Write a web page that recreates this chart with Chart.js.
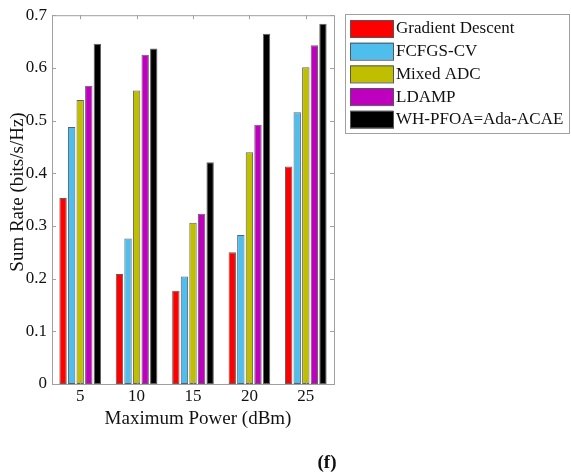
<!DOCTYPE html>
<html>
<head>
<meta charset="utf-8">
<script src="https://cdn.jsdelivr.net/npm/chart.js@4/dist/chart.umd.min.js"></script>
<style>
  html, body { margin: 0; padding: 0; background: #fff; }
  #wrap { width: 571px; height: 473px; }
</style>
</head>
<body>
<div id="wrap"><canvas id="sumRateChart" width="571" height="473"></canvas></div>
<script>
// Data
var powerLevels = ['5', '10', '15', '20', '25'];
var seriesNames = ['Gradient Descent', 'FCFGS-CV', 'Mixed ADC', 'LDAMP', 'WH-PFOA=Ada-ACAE'];
var gradientDescent = [0.353, 0.209, 0.177, 0.250, 0.413];
var fcfgsCv = [0.488, 0.276, 0.204, 0.283, 0.516];
var mixedAdc = [0.539, 0.557, 0.306, 0.440, 0.601];
var ldamp = [0.566, 0.625, 0.323, 0.492, 0.643];
var whPfoa = [0.646, 0.637, 0.421, 0.665, 0.684];
var yTicks = [0, 0.1, 0.2, 0.3, 0.4, 0.5, 0.6, 0.7];

var seriesColors = ['#ff0000', '#4dbeee', '#bfbf00', '#bf00bf', '#000000'];
var seriesValues = [gradientDescent, fcfgsCv, mixedAdc, ldamp, whPfoa];
var serif = "'Liberation Serif', 'Times New Roman', serif";

// Box around plot, inner tick marks, axis titles, legend
var framePlugin = {
    id: 'frame',
    afterDraw: function (chart) {
        var ctx = chart.ctx;
        var a = chart.chartArea;
        var xs = chart.scales.x;
        var ys = chart.scales.y;
        ctx.save();
        ctx.strokeStyle = '#a0a0a0';
        ctx.lineWidth = 1;
        ctx.strokeRect(a.left + 0.5, a.top + 0.5, a.right - a.left, a.bottom - a.top);

        ctx.beginPath();
        yTicks.forEach(function (v) {
            var y = Math.round(ys.getPixelForValue(v)) + 0.5;
            ctx.moveTo(a.left, y); ctx.lineTo(a.left + 4, y);
            ctx.moveTo(a.right, y); ctx.lineTo(a.right - 4, y);
        });
        powerLevels.forEach(function (p, i) {
            var x = Math.round(xs.getPixelForValue(i)) + 0.5;
            ctx.moveTo(x, a.top); ctx.lineTo(x, a.top + 4);
            ctx.moveTo(x, a.bottom); ctx.lineTo(x, a.bottom - 4);
        });
        ctx.stroke();

        // axis titles
        ctx.fillStyle = '#111';
        ctx.font = '19px ' + serif;
        ctx.textAlign = 'center';
        ctx.textBaseline = 'middle';
        ctx.fillText('Maximum Power (dBm)', 198, 419);
        ctx.save();
        ctx.translate(18, 192);
        ctx.rotate(-Math.PI / 2);
        ctx.fillText('Sum Rate (bits/s/Hz)', 0, 0);
        ctx.restore();
        ctx.font = 'bold 19px ' + serif;
        ctx.fillText('(f)', 327, 463);

        // legend
        ctx.strokeStyle = '#a0a0a0';
        ctx.strokeRect(345.5, 14.5, 224, 119);
        ctx.font = '17px ' + serif;
        ctx.textAlign = 'left';
        seriesNames.forEach(function (name, i) {
            var top = 20 + i * 22.7;
            ctx.fillStyle = seriesColors[i];
            ctx.fillRect(350, top, 43, 17);
            ctx.strokeStyle = '#555';
            ctx.strokeRect(350.5, top + 0.5, 43, 17);
            ctx.fillStyle = '#111';
            ctx.fillText(name, 396, top + 9);
        });
        ctx.restore();
    }
};

var datasets = seriesNames.map(function (name, i) {
    return {
        label: name,
        data: seriesValues[i],
        backgroundColor: seriesColors[i],
        borderColor: '#606060',
        borderWidth: 1,
        borderSkipped: false,
        categoryPercentage: 0.76,
        barPercentage: 0.86
    };
});

var ctx = document.getElementById('sumRateChart').getContext('2d');
var sumRateChart = new Chart(ctx, {
    type: 'bar',
    data: { labels: powerLevels, datasets: datasets },
    options: {
        responsive: false,
        animation: false,
        layout: { padding: { left: 0, right: 237, top: 15, bottom: 0 } },
        plugins: {
            legend: { display: false },
            tooltip: { enabled: false }
        },
        scales: {
            x: {
                grid: { display: false, drawTicks: false },
                border: { display: false },
                ticks: { color: '#111', font: { family: serif, size: 17 }, padding: 2 },
                afterFit: function (scale) { scale.height = 89; }
            },
            y: {
                min: 0,
                max: 0.7,
                grid: { display: false, drawTicks: false },
                border: { display: false },
                ticks: {
                    stepSize: 0.1,
                    color: '#111',
                    padding: 5,
                    font: { family: serif, size: 17 },
                    callback: function (v) { return String(Math.round(v * 10) / 10); }
                },
                afterFit: function (scale) { scale.width = 52; }
            }
        }
    },
    plugins: [framePlugin]
});
</script>
</body>
</html>
